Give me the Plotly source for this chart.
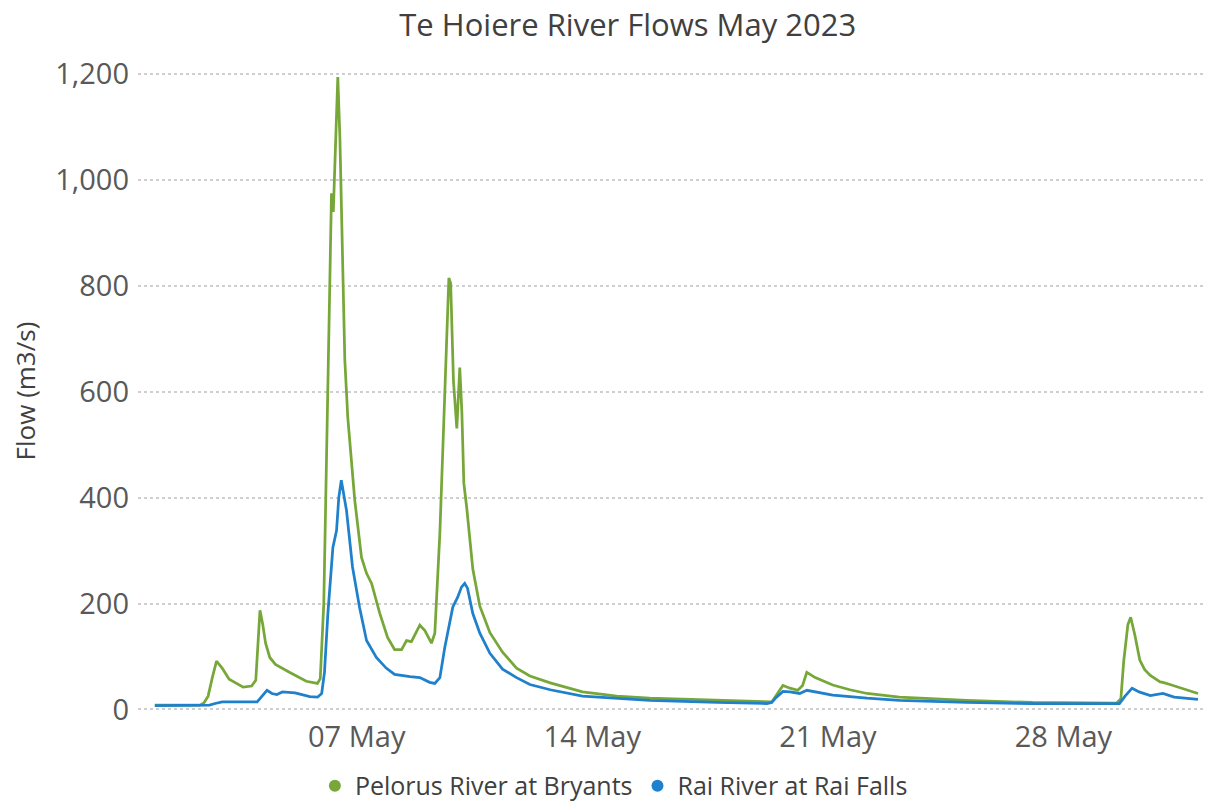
import plotly.graph_objects as go
import pandas as pd

# Hours since 2023-05-01 00:00 and flows (m3/s)
pelorus_hours = [0, 32, 35, 38, 41, 44, 48, 53, 63, 69, 72, 73.5, 75, 77, 79, 82, 86, 96, 108,
                 116, 118, 120.5, 122.7, 125, 126, 127.3, 128.7, 130.5, 132, 133.4, 135.5, 137,
                 137.6, 142.6, 147.4, 151, 154.6, 160.5, 166, 171, 176, 179.5, 183, 189, 192.6,
                 197.3, 199.7, 203.3, 206.8, 209.7, 211, 213, 215.4, 217.5, 219, 220.4, 222.5,
                 226.8, 231.8, 239, 248, 258, 267.5, 282, 305, 329.5, 353, 401, 436.5, 440,
                 443.6, 448, 453, 458.6, 462, 465, 471, 483.5, 495.7, 508, 531, 579, 626, 686,
                 689, 691, 694, 696, 699, 702.5, 706, 710, 717, 719, 724, 735, 744]
pelorus_flow = [8, 8, 12, 25, 60, 91, 78, 57, 42, 44, 55, 120, 187, 160, 125, 98, 85, 70, 53,
                49, 58, 200, 500, 820, 975, 940, 1050, 1195, 1080, 911, 660, 584,
                552, 395, 287, 257, 238, 181, 136, 113, 113, 130, 128, 159, 149,
                125, 144, 333, 584, 815, 805, 620, 531, 646, 560, 427, 380,
                265, 195, 145, 108, 78, 63, 50, 33, 25, 21, 17, 14, 14,
                28, 45, 40, 36, 45, 70, 60, 46, 37, 30, 23, 17, 13, 12,
                20, 90, 160, 174, 140, 93, 75, 64, 52, 51, 47, 37, 30]

rai_hours = [0, 39, 43, 48, 73, 76, 80, 83.5, 87, 91, 100, 110.5, 116, 119, 121, 123.4, 125.5,
             127, 129.6, 131.2, 133, 136.7, 141, 146, 151, 158, 165, 171, 182, 189, 196, 199.7,
             203.3, 206.8, 212.5, 216, 218.7, 221, 223, 226.8, 231.8, 239, 248, 258, 267.5,
             282, 305, 353, 401, 436.5, 440, 443, 448, 453, 460, 465, 483.5, 508, 531, 579,
             626, 688, 692, 697, 702, 710, 719, 727, 744]
rai_flow = [7, 8, 11, 14, 14, 24, 36, 30, 28, 33, 31, 24, 23, 30, 70, 180, 260,
            306, 338, 400, 433, 376, 269, 193, 130, 98, 78, 66, 62, 60, 51, 49,
            60, 117, 193, 212, 231, 238, 229, 181, 144, 106, 76, 60, 47,
            37, 25, 17, 13, 11, 13, 22, 34, 33, 30, 36, 27, 21, 17, 13,
            11, 11, 25, 40, 33, 26, 30, 23, 19]

series_names = ["Pelorus River at Bryants", "Rai River at Rai Falls"]
series_colors = ["#77A738", "#1F80CC"]
tick_dates = ["2023-05-07", "2023-05-14", "2023-05-21", "2023-05-28"]
tick_labels = ["07 May", "14 May", "21 May", "28 May"]
y_ticks = [0, 200, 400, 600, 800, 1000, 1200]

start = pd.Timestamp("2023-05-01 00:00")
pel_t = [start + pd.Timedelta(hours=h) for h in pelorus_hours]
rai_t = [start + pd.Timedelta(hours=h) for h in rai_hours]

fig = go.Figure()
fig.add_trace(go.Scatter(x=pel_t, y=pelorus_flow, mode="lines",
                         line=dict(color=series_colors[0], width=2.75),
                         showlegend=False, name=series_names[0]))
fig.add_trace(go.Scatter(x=rai_t, y=rai_flow, mode="lines",
                         line=dict(color=series_colors[1], width=2.75),
                         showlegend=False, name=series_names[1]))
for nm, col in zip(series_names, series_colors):
    fig.add_trace(go.Scatter(x=[None], y=[None], mode="markers", name=nm,
                             marker=dict(color=col, size=12, symbol="circle")))

font_family = "Open Sans, sans-serif"
fig.update_layout(
    width=1208, height=803,
    paper_bgcolor="white", plot_bgcolor="white",
    margin=dict(l=138, r=3, t=69, b=91, autoexpand=False),
    title=dict(text="Te Hoiere River Flows May 2023", xref="paper", x=0.459, xanchor="center",
               yref="container", y=0.9689, yanchor="middle",
               font=dict(family=font_family, size=31, color="#404040")),
    xaxis=dict(range=[start - pd.Timedelta(hours=12), start + pd.Timedelta(hours=749)],
               tickvals=tick_dates, ticktext=tick_labels, showgrid=False,
               showline=False, zeroline=False, ticks="", ticklabelstandoff=5,
               automargin=False,
               tickfont=dict(family=font_family, size=29, color="#595959")),
    yaxis=dict(range=[-5, 1210], tickvals=y_ticks, tickformat=",d",
               showgrid=True, gridcolor="#CFCFCF", griddash="dot", gridwidth=1.5,
               zeroline=False, showline=False, ticks="", ticklabelstandoff=8,
               automargin=False,
               tickfont=dict(family=font_family, size=29, color="#595959")),
    legend=dict(orientation="h", xref="paper", x=0.446, xanchor="center",
                yref="container", y=0.0212, yanchor="middle",
                font=dict(family=font_family, size=25, color="#404040"),
                itemwidth=30, tracegroupgap=0),
    annotations=[dict(text="Flow (m3/s)", textangle=-90, xref="paper", yref="paper",
                      x=-0.106, y=0.5, xanchor="center", yanchor="middle", showarrow=False,
                      font=dict(family=font_family, size=26, color="#404040"))],
)

fig.write_html("out.html", config={"displayModeBar": False},
               post_script="document.body.style.margin='0';")
